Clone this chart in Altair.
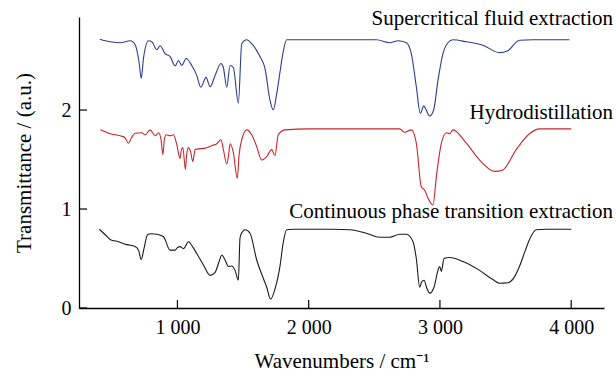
import altair as alt
import pandas as pd

# ---- data ----
sfe_wn = [408, 450, 488, 564, 640, 678, 709, 724, 742, 780, 805, 843, 868, 906, 944, 983, 1008, 1033,
          1066, 1109, 1147, 1178, 1218, 1249, 1287, 1332, 1350, 1376, 1401, 1426, 1464, 1490, 1528, 1566,
          1629, 1667, 1705, 1730, 1756, 1781, 1806, 1832, 2000, 2516, 2617, 2680, 2744, 2782, 2820, 2851,
          2876, 2922, 2952, 2985, 3023, 3061, 3099, 3201, 3327, 3454, 3517, 3606, 3707, 3987]
sfe_t = [2.715, 2.70, 2.69, 2.68, 2.70, 2.66, 2.47, 2.32, 2.53, 2.70, 2.69, 2.61, 2.65, 2.57, 2.54, 2.445,
         2.50, 2.45, 2.52, 2.45, 2.35, 2.23, 2.33, 2.235, 2.35, 2.47, 2.43, 2.23, 2.45, 2.43, 2.07, 2.67,
         2.71, 2.67, 2.54, 2.42, 2.10, 2.00, 2.16, 2.38, 2.59, 2.71, 2.71, 2.71, 2.68, 2.70, 2.68, 2.57,
         2.235, 1.965, 2.04, 1.94, 2.00, 2.30, 2.57, 2.68, 2.71, 2.69, 2.655, 2.58, 2.60, 2.705, 2.71, 2.71]

hd_wn = [412, 450, 488, 564, 600, 627, 650, 678, 729, 754, 792, 830, 856, 875, 889, 900, 914, 944, 970,
         995, 1020, 1030, 1041, 1061, 1070, 1084, 1100, 1117, 1135, 1180, 1223, 1260, 1300, 1332, 1350,
         1376, 1390, 1401, 1426, 1456, 1470, 1490, 1528, 1566, 1604, 1642, 1680, 1718, 1743, 1768, 1819,
         2000, 2300, 2693, 2732, 2782, 2820, 2858, 2884, 2909, 2947, 2973, 3011, 3049, 3074, 3099, 3201,
         3302, 3416, 3479, 3581, 3682, 3758, 4000]
hd_t = [1.80, 1.78, 1.76, 1.74, 1.72, 1.665, 1.72, 1.765, 1.77, 1.75, 1.80, 1.74, 1.77, 1.70, 1.55, 1.70,
        1.75, 1.74, 1.75, 1.65, 1.51, 1.60, 1.62, 1.40, 1.55, 1.62, 1.58, 1.48, 1.60, 1.61, 1.62, 1.64,
        1.66, 1.70, 1.60, 1.455, 1.55, 1.66, 1.57, 1.31, 1.55, 1.70, 1.80, 1.75, 1.63, 1.495, 1.53, 1.60,
        1.54, 1.75, 1.80, 1.81, 1.81, 1.81, 1.775, 1.80, 1.665, 1.225, 1.19, 1.11, 1.04, 1.33, 1.665,
        1.77, 1.76, 1.80, 1.665, 1.495, 1.38, 1.395, 1.60, 1.76, 1.81, 1.81]

cpte_wn = [405, 450, 490, 550, 615, 680, 705, 724, 745, 772, 800, 843, 894, 944, 983, 1000, 1020, 1046,
           1084, 1120, 1147, 1198, 1249, 1287, 1320, 1338, 1363, 1388, 1414, 1439, 1464, 1477, 1495, 1515,
           1553, 1604, 1654, 1679, 1710, 1743, 1781, 1806, 1832, 1883, 2000, 2186, 2313, 2440, 2541, 2617,
           2694, 2744, 2795, 2820, 2846, 2860, 2879, 2900, 2922, 2955, 2985, 2998, 3011, 3031, 3074, 3175,
           3302, 3400, 3454, 3517, 3560, 3606, 3650, 3682, 3733, 3809, 3900, 4000]
cpte_t = [0.795, 0.74, 0.69, 0.67, 0.64, 0.62, 0.58, 0.49, 0.60, 0.74, 0.75, 0.745, 0.72, 0.585, 0.585,
          0.61, 0.62, 0.60, 0.67, 0.61, 0.55, 0.435, 0.33, 0.36, 0.48, 0.535, 0.485, 0.42, 0.425, 0.38,
          0.28, 0.71, 0.77, 0.79, 0.755, 0.485, 0.30, 0.215, 0.09, 0.19, 0.42, 0.66, 0.79, 0.795, 0.795,
          0.795, 0.79, 0.755, 0.715, 0.715, 0.745, 0.745, 0.67, 0.50, 0.21, 0.26, 0.28, 0.20, 0.15, 0.21,
          0.38, 0.42, 0.37, 0.50, 0.51, 0.47, 0.38, 0.29, 0.25, 0.255, 0.30, 0.42, 0.58, 0.69, 0.79, 0.795,
          0.795, 0.795]

series_names = ["Supercritical fluid extraction", "Hydrodistillation", "Continuous phase transition extraction"]
series_colors = ["#2b3d8c", "#c8262c", "#1a1a1a"]
label_levels = [2.86, 1.91, 0.91]   # vertical anchor of each series label (transmittance units)

x_ticks = [1000, 2000, 3000, 4000]
y_ticks = [0, 1, 2]

FONT = "Times New Roman, Liberation Serif, serif"

rows = []
for name, wn, tv in zip(series_names, [sfe_wn, hd_wn, cpte_wn], [sfe_t, hd_t, cpte_t]):
    assert len(wn) == len(tv)
    for w, t in zip(wn, tv):
        rows.append({"series": name, "wn": w, "t": t})
df = pd.DataFrame(rows)

labels_df = pd.DataFrame({"series": series_names, "t": label_levels})
xt_df = pd.DataFrame({"wn": x_ticks})
yt_df = pd.DataFrame({"t": y_ticks})

xscale = alt.Scale(domain=[250, 4250], nice=False, zero=False)
yscale = alt.Scale(domain=[0, 2.94], nice=False, zero=True)
cscale = alt.Scale(domain=series_names, range=series_colors)

xaxis = alt.Axis(values=x_ticks, tickSize=0, labelPadding=9, title="Wavenumbers / cm⁻¹",
                 titlePadding=13, labelExpr="replace(format(datum.value, ','), ',', ' ')", grid=False)
yaxis = alt.Axis(values=y_ticks, tickSize=0, labelPadding=8, title="Transmittance / (a.u.)",
                 titlePadding=27, grid=False)

lines = alt.Chart(df).mark_line(strokeWidth=1.1, clip=True, interpolate="monotone").encode(
    x=alt.X("wn:Q", scale=xscale, axis=xaxis),
    y=alt.Y("t:Q", scale=yscale, axis=yaxis),
    color=alt.Color("series:N", scale=cscale, legend=None),
    detail="series:N",
    order="wn:Q",
)

xtick_rules = alt.Chart(xt_df).mark_rule(color="black", strokeWidth=1.2).encode(
    x=alt.X("wn:Q", scale=xscale, axis=xaxis),
    y=alt.value(291),
    y2=alt.value(283),
)

ytick_rules = alt.Chart(yt_df).mark_rule(color="black", strokeWidth=1.2).encode(
    y=alt.Y("t:Q", scale=yscale, axis=yaxis),
    x=alt.value(0),
    x2=alt.value(8),
)

texts = alt.Chart(labels_df).mark_text(
    align="right", baseline="alphabetic", font=FONT, fontSize=21, color="black", clip=False
).encode(
    x=alt.value(534),
    y=alt.Y("t:Q", scale=yscale, axis=yaxis),
    text="series:N",
)

chart = alt.layer(lines, xtick_rules, ytick_rules, texts).properties(
    width=525, height=291,
    autosize=alt.AutoSizeParams(type="none"),
    padding={"left": 79, "top": 17, "right": 12, "bottom": 64},
).configure_view(stroke=None).configure_axis(
    domainColor="black", domainWidth=1.3,
    labelFont=FONT, labelFontSize=20, labelColor="black",
    titleFont=FONT, titleFontSize=21, titleColor="black", titleFontWeight="normal",
).configure_axisY(labelAngle=0).configure_text(font=FONT)

chart.save("out.html", embed_options={"renderer": "svg", "actions": False})
